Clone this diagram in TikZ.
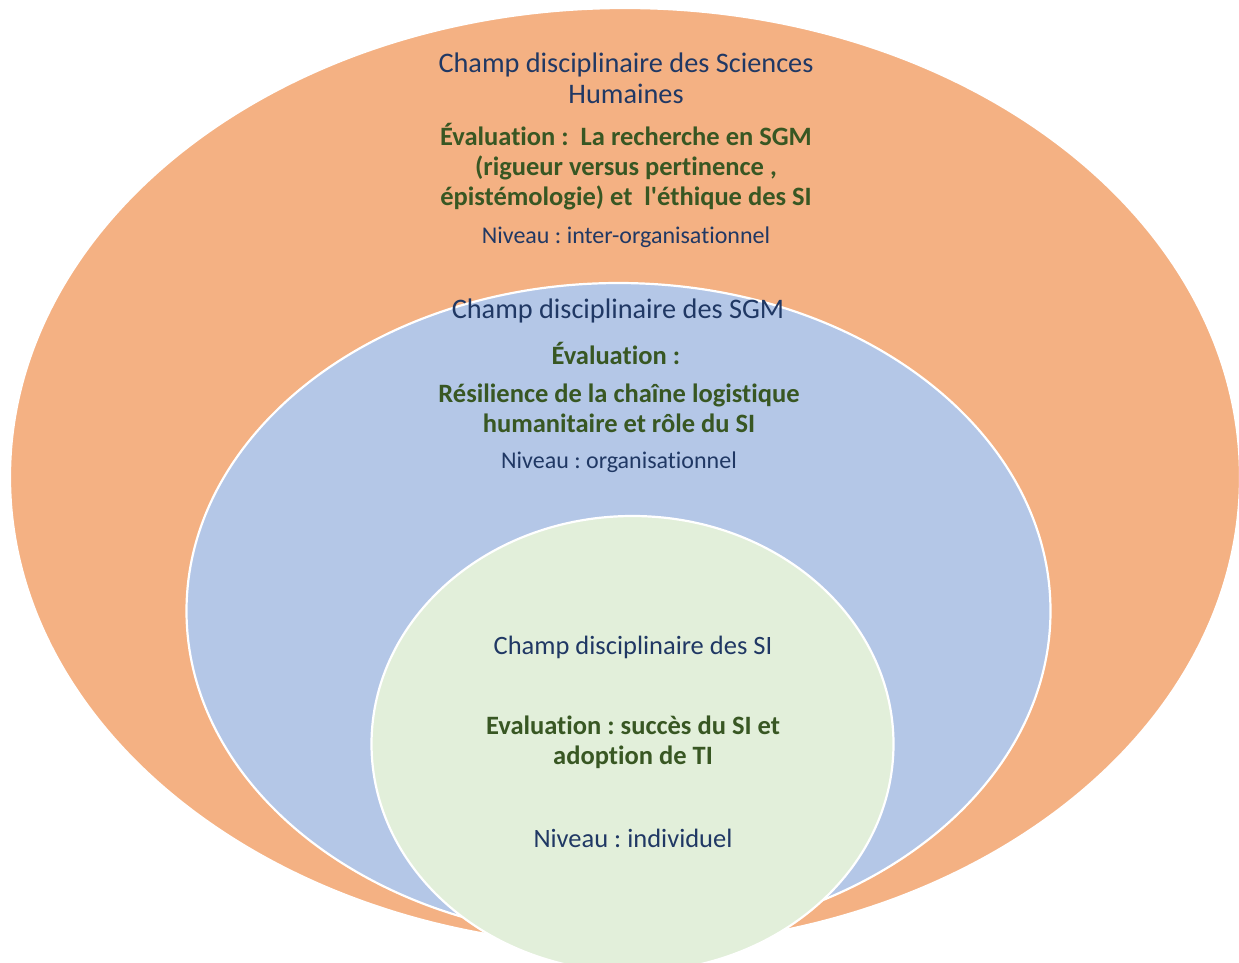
\documentclass[tikz,border=0pt]{standalone}
\usepackage{fontspec}
\setmainfont{Carlito}[RawFeature={-liga;-clig;-dlig;-calt}]
\newfontfamily\plainapos{Carlito}[RawFeature={-liga;-clig;-dlig;-calt}]
\frenchspacing
\usetikzlibrary{shapes.geometric}
\definecolor{orangefill}{HTML}{F4B183}
\definecolor{bluefill}{HTML}{B4C7E7}
\definecolor{greenfill}{HTML}{E2EFDA}
\definecolor{navytext}{HTML}{203864}
\definecolor{greentext}{HTML}{385723}
\tikzset{
  circle field/.style={ellipse, inner sep=0pt, draw=white, line width=2.2pt},
  title text/.style={text=navytext, font=\fontsize{28.3}{31}\selectfont, align=center, inner sep=0pt},
  eval text/.style={text=greentext, font=\bfseries\fontsize{26.5}{30}\selectfont, align=center, inner sep=0pt},
  level text/.style={text=navytext, font=\fontsize{24}{28}\selectfont, align=center, inner sep=0pt},
  inner text/.style={text=navytext, font=\fontsize{26.5}{30}\selectfont, align=center, inner sep=0pt},
}
\begin{document}
\begin{tikzpicture}[x=1pt,y=-1pt]
\useasboundingbox (0,0) rectangle (1239,962);
\clip (0,0) rectangle (1239,962);
% ellipses
\node[circle field, fill=orangefill, minimum width=1230pt, minimum height=938pt] (outer) at (625,477) {};
\node[circle field, fill=bluefill, minimum width=864pt, minimum height=656pt] (middle) at (618.5,611) {};
\node[circle field, fill=greenfill, minimum width=522pt, minimum height=456pt] (inner) at (632.5,744) {};
% outer texts
\node[title text] (t1) at (626,78) {Champ disciplinaire des Sciences\\Humaines};
\node[eval text] (e1) at (626,167) {Évaluation :\ \ La recherche en SGM\\(rigueur versus pertinence ,\\épistémologie) et\ \ l{\plainapos\bfseries '}éthique des SI};
\node[level text] (n1) at (626,237) {Niveau : inter-organisationnel};
% middle texts
\node[title text] (t2) at (618,311) {Champ disciplinaire des SGM};
\node[eval text] (e2a) at (619,353) {Évaluation :\phantom{l}};
\node[eval text] (e2b) at (619,408) {Résilience de la chaîne logistique\\humanitaire et rôle du SI};
\node[level text] (n2) at (619,462) {Niveau : organisationnel};
% inner texts
\node[inner text] (t3) at (633,647) {Champ disciplinaire des SI};
\node[eval text] (e3) at (633,742) {Evaluation : succès du SI et\\adoption de TI};
\node[inner text] (n3) at (633,838) {Niveau : individuel};
\end{tikzpicture}
\end{document}
